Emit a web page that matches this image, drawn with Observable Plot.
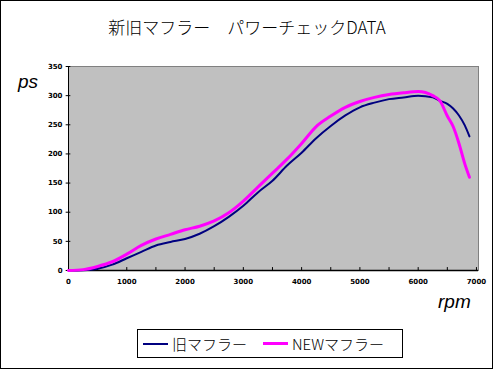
<!DOCTYPE html>
<html><head><meta charset="utf-8">
<script src="https://cdn.jsdelivr.net/npm/d3@7"></script>
<script src="https://cdn.jsdelivr.net/npm/@observablehq/plot@0.6"></script>
<style>
body{margin:0;background:#fff;}
#wrap{position:relative;width:494px;height:370px;overflow:hidden;font-family:"Noto Sans CJK JP",sans-serif;}
#wrap svg{position:absolute;left:0;top:0;}
.border{position:absolute;left:0;top:0;width:493px;height:369px;box-sizing:border-box;border:1px solid #000;pointer-events:none;}
.title{position:absolute;left:0;width:494px;top:15px;text-align:center;font-size:17px;line-height:24px;font-weight:300;color:#000;}
.lab{position:absolute;font-family:"Liberation Sans",Arial,sans-serif;font-style:italic;font-size:19px;line-height:20px;}
.legend{position:absolute;left:137px;top:329px;width:266px;height:29px;box-sizing:border-box;border:1px solid #000;display:flex;align-items:center;padding-left:5px;font-size:15px;font-weight:300;color:#000;}
.sw{display:inline-block;width:25px;margin-right:4px;}
</style></head>
<body>
<div id="wrap">
  <div class="title">新旧マフラー　パワーチェックDATA</div>
  <div class="lab" style="left:18px;top:72px;">ps</div>
  <div class="lab" style="left:438px;top:292px;">rpm</div>
  <div class="legend" id="legend"></div>
  <div class="border"></div>
</div>
<script>
const rpm    = [0, 250, 500, 750, 1000, 1250, 1500, 1750, 2000, 2250, 2500, 2750, 3000, 3250, 3500, 3750, 4000, 4250, 4500, 4750, 5000, 5250, 5500, 5750, 6000, 6250, 6375, 6500, 6600, 6700, 6800, 6880];
const oldPs  = [0, 0.5, 3, 10, 21, 32, 43, 49, 54, 63, 76, 92, 111, 134, 154, 180, 202, 227, 248, 266, 280, 288, 294, 297, 300, 297, 291, 286, 278, 266, 249, 230];
const newPs  = [0, 1.5, 7, 15, 28, 43, 54, 62, 70, 76, 85, 99, 119, 143, 167, 191, 218, 247, 265, 280, 290, 297, 302, 305, 307, 300, 291, 265, 247, 218, 183, 160];
const seriesNames = ["旧マフラー", "NEWマフラー"];
const seriesColors = ["#000080", "#ff00ff"];
const seriesWidths = [2, 3];
const xTicks = [0, 1000, 2000, 3000, 4000, 5000, 6000, 7000];
const xMinor = d3.range(0, 7001, 500);
const yTicks = [0, 50, 100, 150, 200, 250, 300, 350];

const oldData = rpm.map((r, i) => ({rpm: r, ps: oldPs[i]}));
const newData = rpm.map((r, i) => ({rpm: r, ps: newPs[i]}));

const chart = Plot.plot({
  width: 494, height: 370,
  marginLeft: 68, marginRight: 16, marginTop: 66, marginBottom: 100,
  x: {domain: [0, 7035]},
  y: {domain: [0, 350]},
  style: {fontFamily: "DejaVu Sans, sans-serif", fontSize: "7px", fontWeight: "bold", background: "transparent"},
  marks: [
    Plot.frame({fill: "#c0c0c0", stroke: "#808080"}),
    Plot.ruleY([0], {stroke: "#000", strokeWidth: 1.5}),
    Plot.ruleX([0], {stroke: "#000", strokeWidth: 1}),
    Plot.ruleX(xMinor, {x: d => d, y1: 0, y2: 5, stroke: "#000"}),
    Plot.ruleY(yTicks, {y: d => d, x1: -40, x2: 40, stroke: "#000"}),
    Plot.axisX({ticks: xTicks, tickSize: 0, tickPadding: 9, tickFormat: d => String(d), label: null}),
    Plot.axisY({ticks: yTicks, tickSize: 0, tickPadding: 6, tickFormat: d => String(d), label: null}),
    Plot.line(oldData, {x: "rpm", y: "ps", stroke: seriesColors[0], strokeWidth: seriesWidths[0], curve: "monotone-x"}),
    Plot.line(newData, {x: "rpm", y: "ps", stroke: seriesColors[1], strokeWidth: seriesWidths[1], curve: "monotone-x"})
  ]
});
const wrap = document.getElementById("wrap");
wrap.insertBefore(chart, wrap.firstChild);

const legend = document.getElementById("legend");
seriesNames.forEach((n, i) => {
  const sw = document.createElement("span");
  sw.className = "sw";
  sw.style.borderTop = seriesWidths[i] + "px solid " + seriesColors[i];
  sw.style.marginLeft = i ? "16px" : "0";
  legend.appendChild(sw);
  const t = document.createElement("span");
  t.textContent = n;
  legend.appendChild(t);
});
</script>
</body></html>
